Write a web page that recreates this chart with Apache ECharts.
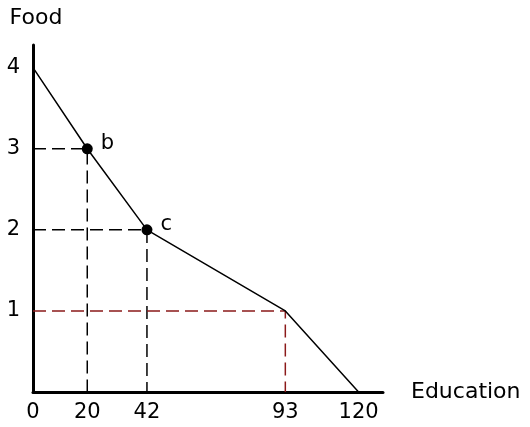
<!DOCTYPE html>
<html>
<head>
<meta charset="utf-8">
<script src="https://cdn.jsdelivr.net/npm/echarts@6/dist/echarts.min.js"></script>
<style>
html, body { margin: 0; padding: 0; background: #fff; }
#main { width: 530px; height: 427px; }
</style>
</head>
<body>
<div id="main"></div>
<script>
// points on the frontier
var education = [0, 20, 42, 93, 120];
var food = [4, 3, 2, 1, 0];
var xTicks = [0, 20, 42, 93, 120];
var yTicks = [1, 2, 3, 4];
// labelled points and dashed guides
var dotNames = ['b', 'c'];
var dotEdu = [20, 42];
var dotFood = [3, 2];
var guideEdu = [20, 42, 93];
var guideFood = [3, 2, 1];
var guideColor = ['#000', '#000', '#8b1a1a'];

var font = 'DejaVu Sans';
var chart = echarts.init(document.getElementById('main'));

var lineData = education.map(function (e, i) { return [e, food[i]]; });

var series = [{
    type: 'line',
    data: lineData,
    symbol: 'none',
    lineStyle: { color: '#000', width: 1.5 },
    z: 5
}, {
    type: 'scatter',
    data: dotEdu.map(function (e, i) { return { value: [e, dotFood[i]], name: dotNames[i] }; }),
    symbolSize: 11,
    itemStyle: { color: '#000', opacity: 1 },
    label: {
        show: true,
        position: 'right',
        distance: 8,
        offset: [0, -5],
        formatter: '{b}',
        fontFamily: font,
        fontSize: 21,
        color: '#000'
    },
    z: 6
}];

guideEdu.forEach(function (e, i) {
    var y = guideFood[i];
    series.push({
        type: 'line',
        data: [[0, y], [e, y], [e, 0]],
        symbol: 'none',
        lineStyle: { color: guideColor[i], width: 1.5, type: [13, 6] },
        z: 3
    });
});

option = {
    animation: false,
    grid: { left: 33, top: 45, right: 147, bottom: 35 },
    xAxis: {
        type: 'value',
        min: 0,
        max: 129,
        name: 'Education',
        nameLocation: 'end',
        nameGap: 28,
        nameTextStyle: { fontFamily: font, fontSize: 22, color: '#000', verticalAlign: 'middle' },
        axisLine: { lineStyle: { color: '#000', width: 3 } },
        axisTick: { show: false },
        splitLine: { show: false },
        axisLabel: {
            customValues: xTicks,
            fontFamily: font,
            fontSize: 21,
            color: '#000',
            margin: 10
        }
    },
    yAxis: {
        type: 'value',
        min: 0,
        max: 4.28,
        name: 'Food',
        nameLocation: 'end',
        nameGap: 16,
        nameTextStyle: { fontFamily: font, fontSize: 22, color: '#000', align: 'center', padding: [0, 0, 0, 6] },
        axisLine: { lineStyle: { color: '#000', width: 3 } },
        axisTick: { show: false },
        splitLine: { show: false },
        axisLabel: {
            customValues: yTicks,
            fontFamily: font,
            fontSize: 21,
            color: '#000',
            margin: 13
        }
    },
    series: series
};

chart.setOption(option);
</script>
</body>
</html>
